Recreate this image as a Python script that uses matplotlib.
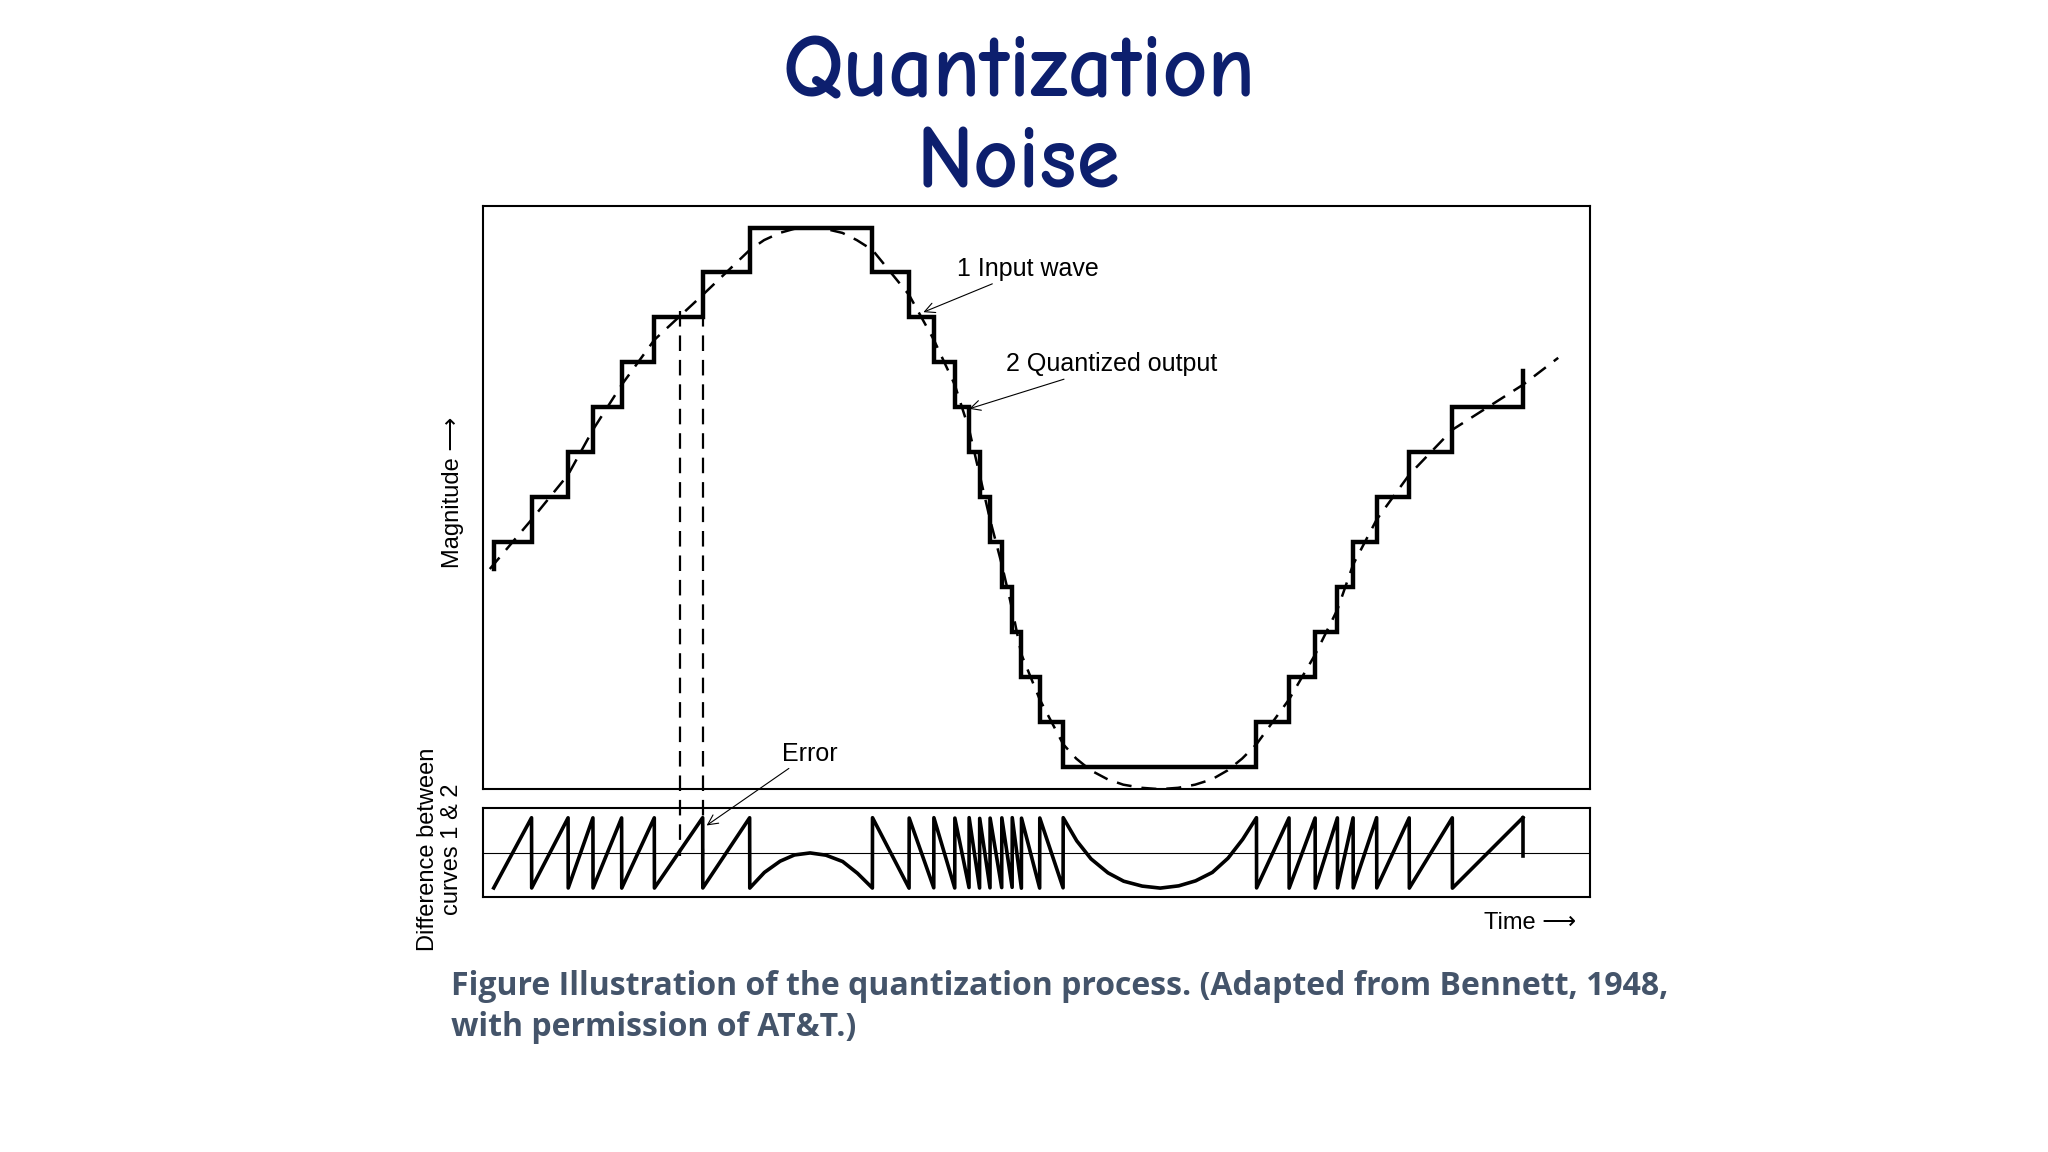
import numpy as np
import matplotlib.pyplot as plt

# quantized output: x where level changes, new level (index of quantum step)
step_x = [378, 407, 435, 454, 476, 501, 538, 574, 668, 696, 715, 731, 742, 750, 758, 767, 775, 782, 796, 814,
          962, 987, 1007, 1024, 1036, 1054, 1079, 1112]
step_level = [5, 6, 7, 8, 9, 10, 11, 12, 11, 10, 9, 8, 7, 6, 5, 4, 3, 2, 1, 0,
              1, 2, 3, 4, 5, 6, 7, 8]
start_level = 4.4
end_x = 1166
end_top = 8.8

# input wave (x, level)
wave_x = [375, 407, 435, 454, 476, 501, 538, 574, 585, 597, 608, 620, 632, 645, 656, 668, 696, 715, 731, 742,
          750, 758, 767, 775, 782, 796, 814, 824, 835, 848, 860, 874, 888, 902, 915, 928, 940, 951, 962,
          987, 1007, 1024, 1036, 1054, 1079, 1112, 1166, 1193]
wave_level = [4.4, 5.5, 6.5, 7.5, 8.5, 9.5, 10.5, 11.5, 11.72, 11.88, 11.97, 12.0, 11.97, 11.88, 11.72, 11.5, 10.5,
              9.5, 8.5, 7.5, 6.5, 5.5, 4.5, 3.5, 2.5, 1.5, 0.5, 0.18, -0.08, -0.28, -0.4, -0.47, -0.5, -0.47,
              -0.4, -0.28, -0.08, 0.18, 0.5, 1.5, 2.5, 3.5, 4.5, 5.5, 6.5, 7.5, 8.5, 9.1]

W, H = 1568, 882   # layout coordinates of the slide
fig = plt.figure(figsize=(20.48, 11.52), dpi=100)

def frac(x0, y0, x1, y1):
    return [x0 / W, 1 - y1 / H, (x1 - x0) / W, (y1 - y0) / H]

lvl = lambda py: (587 - py) / 34.4

ax = fig.add_axes(frac(370, 158, 1217, 604))
ax.set_xlim(370, 1217)
ax.set_ylim(lvl(604), lvl(158))
xs = [step_x[0]]
ys = [start_level]
cur = start_level
for x, l in zip(step_x, step_level):
    xs += [x, x]
    ys += [cur, l]
    cur = l
xs += [end_x, end_x]
ys += [cur, end_top]
ax.plot(xs, ys, color='black', lw=3.2, solid_joinstyle='miter')
ax.plot(wave_x, wave_level, color='black', lw=1.8, dashes=(6, 4))

# error panel: input - quantized
ax2 = fig.add_axes(frac(370, 619, 1217, 687))
ax2.set_xlim(370, 1217)
ax2.set_ylim(-0.63, 0.63)
t = np.linspace(step_x[0], end_x, 8000)
idx = np.searchsorted(np.array(step_x), t, side='right') - 1
q = np.array(step_level)[np.clip(idx, 0, None)]
err = np.clip(np.interp(t, wave_x, wave_level) - q, -0.5, 0.5)
ax2.plot(t, err, color='black', lw=2.6)
ax2.plot([end_x, end_x], [err[-1], -0.05], color='black', lw=2.6)
ax2.axhline(0, color='black', lw=0.8)

for a in (ax, ax2):
    a.set_xticks([])
    a.set_yticks([])
    for s in a.spines.values():
        s.set_linewidth(1.5)

# overlay for labels in slide coordinates
ov = fig.add_axes([0, 0, 1, 1])
ov.set_xlim(0, W)
ov.set_ylim(H, 0)
ov.axis('off')
for xv in (521, 538):
    ov.plot([xv, xv], [238, 655], color='black', lw=1.6, dashes=(7, 4))

fam = ['Liberation Sans', 'DejaVu Sans']
title_fam = ['Comic Neue', 'Lato', 'DejaVu Sans']
ov.text(780, 57, 'Quantization', ha='center', va='center', fontsize=63, fontweight='bold',
        color='#0d1f6e', family=title_fam)
ov.text(780, 127, 'Noise', ha='center', va='center', fontsize=63, fontweight='bold',
        color='#0d1f6e', family=title_fam)

arrow = dict(arrowstyle='->', lw=0.8, color='black', shrinkA=0, shrinkB=0)
ov.annotate('1 Input wave', xy=(707, 239), xytext=(733, 206), fontsize=18, family=fam, va='center',
            arrowprops=arrow)
ov.annotate('2 Quantized output', xy=(742, 313), xytext=(770, 279), fontsize=18, family=fam, va='center',
            arrowprops=arrow)
ov.annotate('Error', xy=(541, 632), xytext=(599, 577), fontsize=18, family=fam, va='center',
            arrowprops=arrow)
ov.text(347, 377, 'Magnitude \u27f6', rotation=90, ha='center', va='center', fontsize=17, family=fam)
ov.text(337, 650, 'Difference between\ncurves 1 & 2', rotation=90, ha='center', va='center',
        fontsize=17, family=fam, linespacing=1.15)
ov.text(1136, 707, 'Time \u27f6', ha='left', va='center', fontsize=17, family=fam)

ov.text(345, 771, 'Figure Illustration of the quantization process. (Adapted from Bennett, 1948,\n'
        'with permission of AT&T.)', ha='left', va='center', fontsize=23, fontweight='bold',
        color='#44546a', family=['Open Sans', 'DejaVu Sans'], linespacing=1.3)

fig.savefig('out.png', dpi=100)
